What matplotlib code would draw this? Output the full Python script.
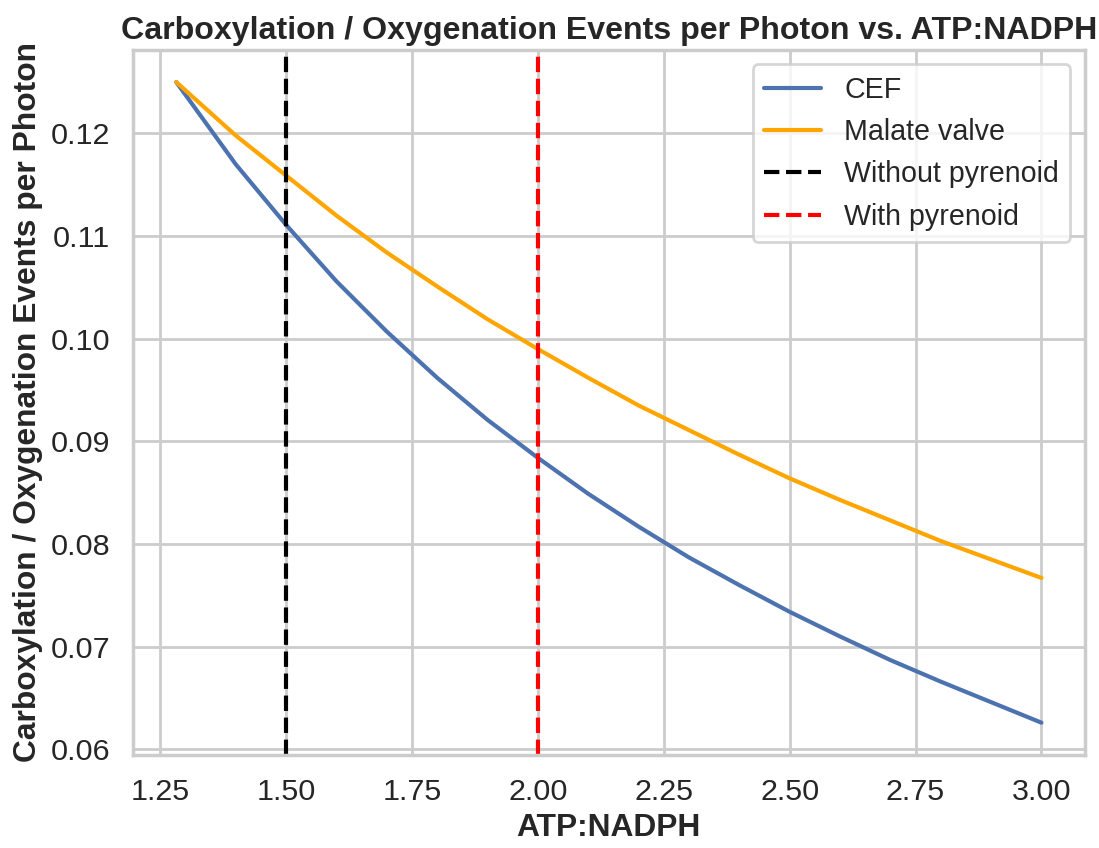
import matplotlib
matplotlib.use("Agg")
import matplotlib.pyplot as plt
import seaborn as sns

# ATP:NADPH ratio and events per photon
atp_nadph = [1.282, 1.4, 1.5, 1.6, 1.7, 1.8, 1.9, 2.0, 2.1, 2.2,
             2.3, 2.4, 2.5, 2.6, 2.7, 2.8, 2.9, 3.0]
cef = [0.1250, 0.1170, 0.1111, 0.1056, 0.1007, 0.0962, 0.0921, 0.0884, 0.0849,
       0.0817, 0.0787, 0.0760, 0.0734, 0.0710, 0.0687, 0.0666, 0.0646, 0.0626]
malate_valve = [0.1250, 0.1198, 0.1159, 0.1120, 0.1084, 0.1051, 0.1019, 0.0990,
                0.0962, 0.0935, 0.0911, 0.0887, 0.0864, 0.0843, 0.0823, 0.0803,
                0.0785, 0.0767]
ratio_without_pyrenoid = 1.5
ratio_with_pyrenoid = 2.0

sns.set_theme(style="whitegrid", context="talk")
plt.rcParams['font.family'] = ['Liberation Sans', 'DejaVu Sans']
plt.rcParams['legend.fontsize'] = 15.5

DPI = 133
fig, ax = plt.subplots(figsize=(1099 / DPI, 848 / DPI), dpi=DPI)

ax.plot(atp_nadph, cef, color='#4c72b0', label='CEF')
ax.plot(atp_nadph, malate_valve, color='orange', label='Malate valve')
ax.axvline(ratio_without_pyrenoid, color='black', linestyle='--', label='Without pyrenoid')
ax.axvline(ratio_with_pyrenoid, color='red', linestyle='--', label='With pyrenoid')

ax.set_xlabel('ATP:NADPH', fontsize=17.2, fontweight='bold')
ax.set_ylabel('Carboxylation / Oxygenation Events per Photon', fontsize=17.2,
              fontweight='bold')
ax.set_title('Carboxylation / Oxygenation Events per Photon vs. ATP:NADPH',
             fontsize=17.4, fontweight='bold')
ax.legend(loc='upper right')

fig.subplots_adjust(left=0.121, right=0.987, top=0.941, bottom=0.110)
plt.savefig('out.png', dpi=DPI)
